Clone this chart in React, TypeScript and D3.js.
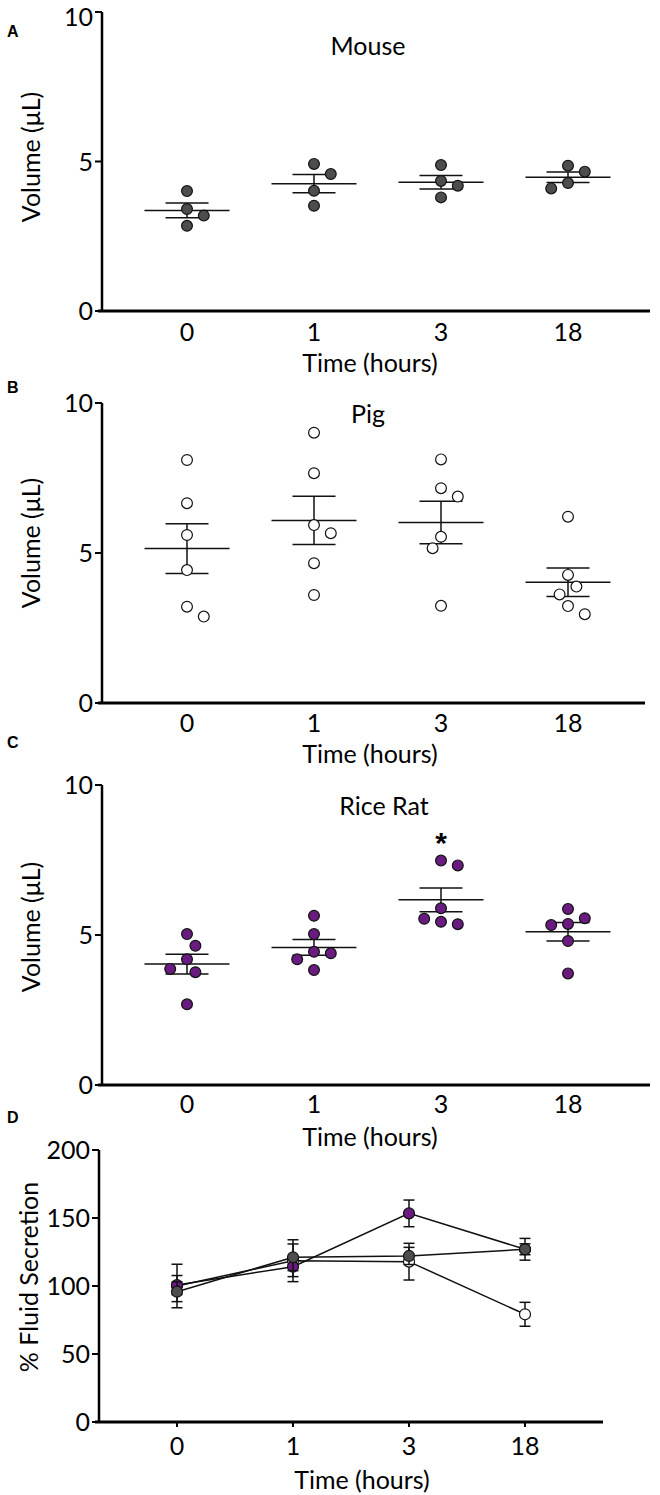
import React from 'react';
import * as d3 from 'd3';

// ---------- data ----------
const timeLabels = ['0', '1', '3', '18'];

const mouseValues: number[][] = [
  [4.01, 3.41, 3.19, 2.85],
  [4.92, 4.58, 4.02, 3.52],
  [4.88, 4.35, 4.19, 3.8],
  [4.86, 4.66, 4.28, 4.1],
];
const pigValues: number[][] = [
  [8.1, 6.66, 5.6, 4.43, 3.21, 2.88],
  [9.01, 7.66, 5.93, 5.66, 4.66, 3.6],
  [8.12, 7.16, 6.88, 5.54, 5.16, 3.24],
  [6.21, 4.27, 3.88, 3.62, 3.23, 2.96],
];
const riceRatValues: number[][] = [
  [5.03, 4.64, 4.19, 3.87, 3.76, 2.69],
  [5.64, 5.03, 4.44, 4.39, 4.19, 3.83],
  [7.48, 7.32, 5.89, 5.54, 5.44, 5.36],
  [5.87, 5.56, 5.37, 5.33, 4.8, 3.72],
];
const volumeTicks = [0, 5, 10];
const secretionTicks = [0, 50, 100, 150, 200];

const pigSecretion = [100, 118.6, 117.9, 79.2];
const pigSecretionSem = [16, 15.4, 13.5, 8.8];
const riceRatSecretion = [100.7, 114.2, 153.4, 127.0];
const riceRatSecretionSem = [7.0, 7.3, 9.8, 4.0];
const mouseSecretion = [95.8, 121.1, 122.1, 127.0];
const mouseSecretionSem = [7.3, 9.8, 6.3, 8.0];

// ---------- styles ----------
const FONT = "Lato, 'Open Sans', sans-serif";
const MOUSE_FILL = '#4d4d4d';
const PIG_FILL = '#ffffff';
const RICE_FILL = '#6a1b7f';

// Collision-based dot placement with quantised horizontal steps (Prism-like scatter dot plot)
function swarm(values: number[], y: (v: number) => number, minDist: number, step: number): number[] {
  const placed: { x: number; y: number }[] = [];
  const out: number[] = [];
  let side = 1;
  values.forEach((v) => {
    const py = y(v);
    let best = 0;
    for (let k = 0; k < 40; k++) {
      const cands = k === 0 ? [0] : [side * k * step, -side * k * step];
      let found: number | null = null;
      for (const cx of cands) {
        if (placed.every((p) => Math.hypot(p.x - cx, p.y - py) >= minDist)) {
          found = cx;
          break;
        }
      }
      if (found !== null) {
        best = found;
        if (found !== 0) side = found > 0 ? -1 : 1;
        break;
      }
    }
    placed.push({ x: best, y: py });
    out.push(best);
  });
  return out;
}

type ScatterProps = {
  letter: string;
  letterY: number;
  title: string;
  titleX: number;
  titleY: number;
  values: number[][];
  fill: string;
  y0: number;
  y10: number;
  axisEnd: number;
  tickLabelDy: number;
  timeDy: number;
  yTitleY: number;
  star?: number;
};

const AXIS_X = 102;

function ScatterPanel(p: ScatterProps) {
  const y = d3.scaleLinear().domain([0, 10]).range([p.y0, p.y10]);
  const x = d3.scalePoint<string>().domain(timeLabels).range([187, 568]);
  const r = 5.4;
  return (
    <g>
      <text x={7} y={p.letterY} fontFamily="'Liberation Sans', Arial, sans-serif" fontWeight="bold" fontSize={16}>
        {p.letter}
      </text>
      <text x={p.titleX} y={p.titleY} textAnchor="middle" fontFamily={FONT} fontSize={25}>
        {p.title}
      </text>
      {p.values.map((vals, i) => {
        const cx = x(timeLabels[i])!;
        const mean = d3.mean(vals)!;
        const sem = d3.deviation(vals)! / Math.sqrt(vals.length);
        const offs = swarm(vals, y, 13.5, 8.4);
        return (
          <g key={i}>
            <line x1={cx - 42.5} x2={cx + 42.5} y1={y(mean)} y2={y(mean)} stroke="#111" strokeWidth={1.5} />
            <line x1={cx - 21.5} x2={cx + 21.5} y1={y(mean + sem)} y2={y(mean + sem)} stroke="#111" strokeWidth={1.5} />
            <line x1={cx - 21.5} x2={cx + 21.5} y1={y(mean - sem)} y2={y(mean - sem)} stroke="#111" strokeWidth={1.5} />
            <line x1={cx} x2={cx} y1={y(mean + sem)} y2={y(mean - sem)} stroke="#111" strokeWidth={1.5} />
            {vals.map((v, j) => (
              <circle key={j} cx={cx + offs[j]} cy={y(v)} r={r} fill={p.fill} stroke="#111" strokeWidth={1.2} />
            ))}
          </g>
        );
      })}
      {p.star !== undefined && (
        <text x={x(timeLabels[p.star])!} y={y(10) + 68} textAnchor="middle" fontFamily="'Liberation Sans', Arial, sans-serif" fontWeight="bold" fontSize={30}>
          *
        </text>
      )}
      {/* axes */}
      <line x1={AXIS_X} x2={AXIS_X} y1={p.y10} y2={p.y0} stroke="#000" strokeWidth={2.5} />
      <line x1={AXIS_X - 4} x2={p.axisEnd} y1={p.y0} y2={p.y0} stroke="#000" strokeWidth={3} />
      {volumeTicks.map((t) => (
        <g key={t}>
          <line x1={AXIS_X - 7} x2={AXIS_X} y1={y(t)} y2={y(t)} stroke="#000" strokeWidth={2} />
          <text x={AXIS_X - 9} y={Math.max(y(t) + 9, 26)} textAnchor="end" fontFamily={FONT} fontSize={25}>
            {t}
          </text>
        </g>
      ))}
      {timeLabels.map((t) => (
        <text key={t} x={x(t)!} y={p.y0 + p.tickLabelDy} textAnchor="middle" fontFamily={FONT} fontSize={25}>
          {t}
        </text>
      ))}
      <text x={370} y={p.y0 + p.timeDy} textAnchor="middle" fontFamily={FONT} fontSize={25}>
        Time (hours)
      </text>
      <text transform={`translate(40,${p.yTitleY}) rotate(-90)`} textAnchor="middle" fontFamily={FONT} fontSize={25}>
        Volume (μL)
      </text>
    </g>
  );
}

function LinePanel() {
  const y0 = 1422;
  const y = d3.scaleLinear().domain([0, 200]).range([y0, 1150]);
  const x = d3.scalePoint<string>().domain(timeLabels).range([177, 525]);
  const axisX = 99;
  const series = [
    { vals: pigSecretion, sem: pigSecretionSem, fill: PIG_FILL },
    { vals: riceRatSecretion, sem: riceRatSecretionSem, fill: RICE_FILL },
    { vals: mouseSecretion, sem: mouseSecretionSem, fill: MOUSE_FILL },
  ];
  const line = d3
    .line<number>()
    .x((_, i) => x(timeLabels[i])!)
    .y((d) => y(d));
  return (
    <g>
      <text x={7} y={1123} fontFamily="'Liberation Sans', Arial, sans-serif" fontWeight="bold" fontSize={16}>
        D
      </text>
      {series.map((s, si) => (
        <g key={si}>
          {s.vals.map((v, i) => {
            const cx = x(timeLabels[i])!;
            return (
              <g key={i}>
                <line x1={cx} x2={cx} y1={y(v + s.sem[i])} y2={y(v - s.sem[i])} stroke="#111" strokeWidth={1.5} />
                <line x1={cx - 5.5} x2={cx + 5.5} y1={y(v + s.sem[i])} y2={y(v + s.sem[i])} stroke="#111" strokeWidth={1.5} />
                <line x1={cx - 5.5} x2={cx + 5.5} y1={y(v - s.sem[i])} y2={y(v - s.sem[i])} stroke="#111" strokeWidth={1.5} />
              </g>
            );
          })}
          <path d={line(s.vals) || ''} fill="none" stroke="#111" strokeWidth={1.5} />
          {s.vals.map((v, i) => (
            <circle key={i} cx={x(timeLabels[i])!} cy={y(v)} r={5.5} fill={s.fill} stroke="#111" strokeWidth={1.2} />
          ))}
        </g>
      ))}
      <line x1={axisX} x2={axisX} y1={1150} y2={y0} stroke="#000" strokeWidth={2.5} />
      <line x1={axisX - 4} x2={603} y1={y0} y2={y0} stroke="#000" strokeWidth={3} />
      {secretionTicks.map((t) => (
        <g key={t}>
          <line x1={axisX - 7} x2={axisX} y1={y(t)} y2={y(t)} stroke="#000" strokeWidth={2} />
          <text x={axisX - 9} y={y(t) + 9} textAnchor="end" fontFamily={FONT} fontSize={25}>
            {t}
          </text>
        </g>
      ))}
      {timeLabels.map((t) => (
        <g key={t}>
          <line x1={x(t)!} x2={x(t)!} y1={y0} y2={y0 + 5} stroke="#000" strokeWidth={2} />
          <text x={x(t)!} y={y0 + 33} textAnchor="middle" fontFamily={FONT} fontSize={25}>
            {t}
          </text>
        </g>
      ))}
      <text x={362} y={y0 + 67} textAnchor="middle" fontFamily={FONT} fontSize={25}>
        Time (hours)
      </text>
      <text transform={`translate(38,1277) rotate(-90)`} textAnchor="middle" fontFamily={FONT} fontSize={25}>
        % Fluid Secretion
      </text>
    </g>
  );
}

export default function App() {
  return (
    <svg
      width={660}
      height={1495}
      viewBox="0 0 660 1495"
      style={{ position: 'absolute', left: 0, top: 0, background: '#fff' }}
    >
      <rect x={0} y={0} width={660} height={1495} fill="#fff" />
      <ScatterPanel
        letter="A" letterY={37} title="Mouse" titleX={368} titleY={55}
        values={mouseValues} fill={MOUSE_FILL} y0={311} y10={12} axisEnd={650}
        tickLabelDy={30} timeDy={61} yTitleY={157}
      />
      <ScatterPanel
        letter="B" letterY={393} title="Pig" titleX={368} titleY={423}
        values={pigValues} fill={PIG_FILL} y0={703} y10={403} axisEnd={645}
        tickLabelDy={29} timeDy={60} yTitleY={543}
      />
      <ScatterPanel
        letter="C" letterY={748} title="Rice Rat" titleX={384} titleY={815}
        values={riceRatValues} fill={RICE_FILL} y0={1085} y10={785} axisEnd={650}
        tickLabelDy={28} timeDy={61} yTitleY={927} star={2}
      />
      <LinePanel />
    </svg>
  );
}
